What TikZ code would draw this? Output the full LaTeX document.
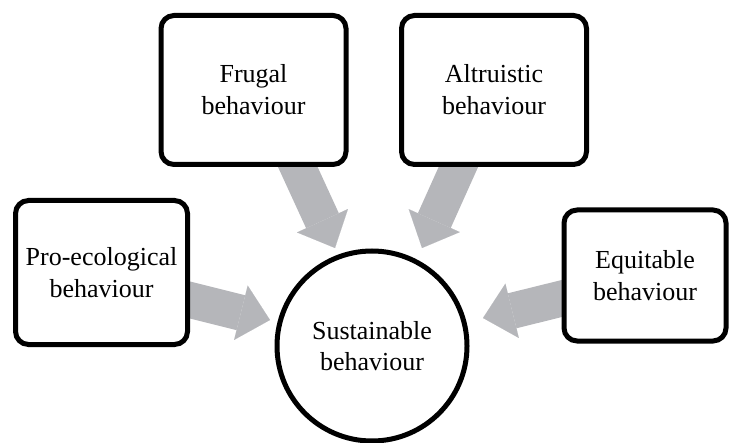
\documentclass[tikz,border=0pt]{standalone}
\usepackage{fontspec}
\setmainfont{Liberation Serif}
\usetikzlibrary{arrows.meta}
\definecolor{arrowgray}{RGB}{181,182,186}
\tikzset{
  box/.style={draw=black, line width=5pt, rounded corners=13pt, fill=white, align=center,
    font=\fontsize{26}{32}\selectfont, inner sep=0pt},
  hub/.style={draw=black, line width=5pt, circle, fill=white, align=center,
    font=\fontsize{26}{31}\selectfont, inner sep=0pt, minimum size=190pt},
  fatarrow/.style={draw=arrowgray, line width=36pt,
    -{Triangle[width=56pt,length=30pt,line width=0.01pt,fill=arrowgray,color=arrowgray]}}
}
\begin{document}
\begin{tikzpicture}[x=1pt,y=-1pt]
\useasboundingbox (0,0) rectangle (730,443);
% arrows (drawn first, under boxes)
\coordinate (ft) at (335,248);
\coordinate (at) at (422,248);
\coordinate (pt) at (270,320);
\coordinate (et) at (483,318);
\coordinate (fs) at (290,150);
\coordinate (as) at (466,150);
\coordinate (ps) at (170,295);
\coordinate (es) at (580,294);
\draw[fatarrow] (fs) -- (ft);
\draw[fatarrow] (as) -- (at);
\draw[fatarrow] (ps) -- (pt);
\draw[fatarrow] (es) -- (et);
% nodes
\node[box, minimum width=185pt, minimum height=149pt] (frugal) at (253.5,90) {Frugal\\behaviour};
\node[box, minimum width=185pt, minimum height=149pt] (altru) at (494,90) {Altruistic\\behaviour};
\node[box, minimum width=172pt, minimum height=144pt] (proeco) at (101.5,272.5) {Pro-ecological\\behaviour};
\node[box, minimum width=162pt, minimum height=131pt] (equit) at (645,275.5) {Equitable\\behaviour};
\node[hub] (sust) at (372,346) {Sustainable\\behaviour};
\end{tikzpicture}
\end{document}
